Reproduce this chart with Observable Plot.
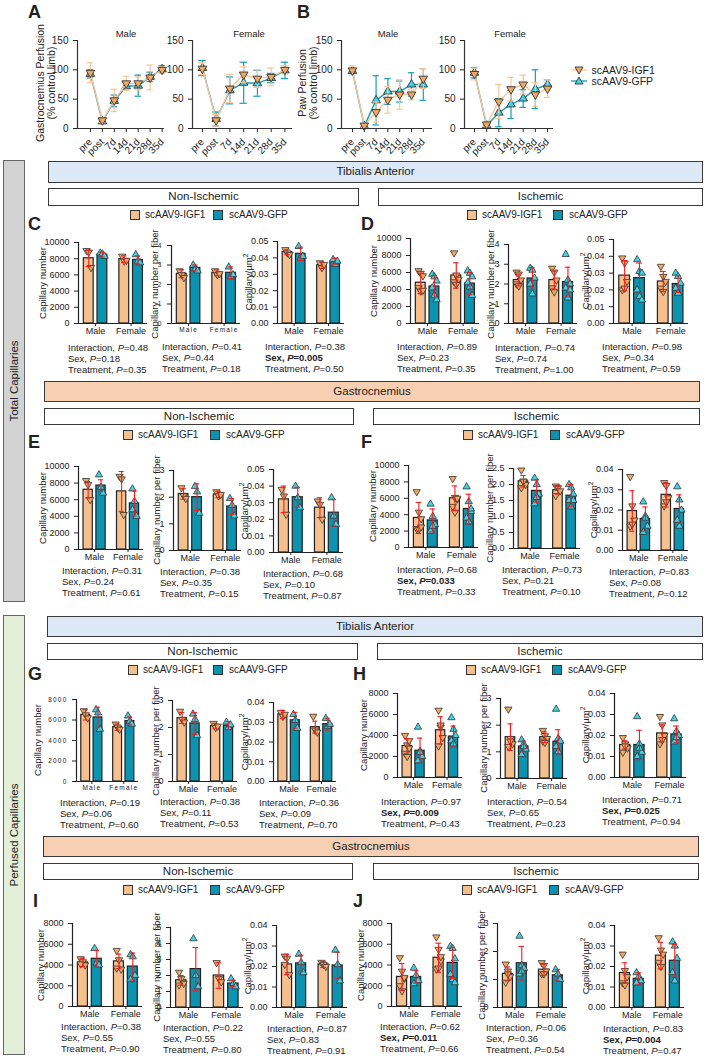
<!DOCTYPE html>
<html><head><meta charset="utf-8">
<script src="https://cdn.jsdelivr.net/npm/d3@7"></script>
<script src="https://cdn.jsdelivr.net/npm/@observablehq/plot@0.6"></script>
<style>
body{margin:0;background:#fff;font-family:"Liberation Sans",Arial,Helvetica,sans-serif;color:#222}
#root{position:relative;width:705px;height:1059px;overflow:hidden;background:#fff}
#root svg{background:transparent !important;overflow:visible !important;max-width:none !important}
.abs{position:absolute;white-space:nowrap}
sup{font-size:0.7em;line-height:0;vertical-align:0.5em}
</style></head><body><div id="root"></div>
<script>
// ---------------- DATA ----------------
const TIMES = ["pre","post","7d","14d","21d","28d","35d"];
const SERIES = ["scAAV9-IGF1","scAAV9-GFP"];
const SEXES = ["Male","Female"];
// Panel A: Gastrocnemius perfusion (% control limb)
const A_male_IGF1 = [95,14,48,77,77,87,100];
const A_male_IGF1_sd = [17,4,19,12,11,21,5];
const A_male_GFP = [93,12,47,72,73,88,101];
const A_male_GFP_sd = [7,3,10,7,18,8,6];
const A_female_IGF1 = [102,14,68,92,85,88,100];
const A_female_IGF1_sd = [10,10,24,13,15,15,7];
const A_female_GFP = [103,16,65,78,77,86,99];
const A_female_GFP_sd = [13,12,23,35,22,8,14];
// Panel B: Paw perfusion
const B_male_IGF1 = [99,5,28,49,58,58,85];
const B_male_IGF1_sd = [8,3,17,23,25,9,17];
const B_male_GFP = [98,4,48,63,63,75,75];
const B_male_GFP_sd = [4,3,42,22,18,20,27];
const B_female_IGF1 = [93,7,46,67,75,58,68];
const B_female_IGF1_sd = [10,3,29,20,16,20,15];
const B_female_GFP = [95,5,27,41,51,67,75];
const B_female_GFP_sd = [9,3,24,24,15,33,8];

// Bar panels: order [Male IGF1, Male GFP, Female IGF1, Female GFP]
const C1_mean=[8050,8500,7950,7850], C1_sd=[1000,300,400,500];
const C1_pts=[[9000,8800,6900],[8700,8600,8300],[8300,7700,7800],[8500,7700,7500]];
const C2_mean=[2.55,2.85,2.6,2.6], C2_sd=[0.2,0.15,0.15,0.3];
const C2_pts=[[2.7,2.5,2.35],[3.0,2.8,2.7],[2.7,2.5,2.55],[2.9,2.4,2.5]];
const C3_mean=[0.0435,0.0425,0.0355,0.0378], C3_sd=[0.0015,0.004,0.002,0.002];
const C3_pts=[[0.045,0.043,0.042],[0.047,0.040,0.041],[0.037,0.034,0.036],[0.039,0.036,0.038]];

const D1_mean=[4800,4350,5650,4700], D1_sd=[1300,1300,1500,1300];
const D1_pts=[[6200,5900,5600,4200,3800,3900],[5800,5500,5000,4200,3300,2800],[8300,5700,5200,4900,4600],[6200,5900,5500,4800,4300,3300]];
const D2_mean=[2.2,2.28,2.2,2.1], D2_sd=[0.3,0.55,0.45,0.75];
const D2_pts=[[2.6,2.5,2.2,2.0,1.9],[2.8,2.7,2.3,2.0,1.5],[2.8,2.6,2.2,1.8,1.6],[3.5,2.2,2.0,1.8,1.3,1.7]];
const D3_mean=[0.0285,0.027,0.025,0.0235], D3_sd=[0.009,0.009,0.006,0.005];
const D3_pts=[[0.039,0.036,0.025,0.020,0.021],[0.038,0.031,0.030,0.020,0.016,0.014],[0.034,0.028,0.025,0.021,0.019],[0.030,0.028,0.024,0.021,0.018]];

const E1_mean=[7200,7700,7000,5550], E1_sd=[1000,700,2400,1500];
const E1_pts=[[8300,7800,6000],[9000,7500,6800],[8800,8500,4200],[7300,5800,4000,4800]];
const E2_mean=[2.12,2.0,2.1,1.65], E2_sd=[0.2,0.5,0.12,0.3];
const E2_pts=[[2.35,2.05,1.95],[2.4,2.2,1.4],[2.2,2.05,2.1],[1.95,1.7,1.3]];
const E3_mean=[0.032,0.0333,0.027,0.024], E3_sd=[0.008,0.006,0.006,0.008];
const E3_pts=[[0.038,0.034,0.023],[0.040,0.033,0.027],[0.031,0.029,0.020],[0.033,0.022,0.017]];

const F1_mean=[3600,3300,6000,4700], F1_sd=[1900,1400,1500,1800];
const F1_pts=[[6800,4300,3500,2300,2200,2500],[5300,3800,2800,2000,2600],[8400,6100,5900,5000,4300,6000],[7400,5600,4400,3600,3100,4700]];
const F2_mean=[2.1,1.8,1.82,1.65], F2_sd=[0.18,0.35,0.12,0.35];
const F2_pts=[[2.45,2.1,2.0,1.9,2.1],[2.2,2.0,1.7,1.4,1.6],[1.95,1.9,1.8,1.65],[2.0,1.9,1.7,1.5,1.3,1.5]];
const F3_mean=[0.0195,0.0155,0.0275,0.0205], F3_sd=[0.010,0.006,0.006,0.007];
const F3_pts=[[0.0365,0.022,0.015,0.012,0.013],[0.024,0.017,0.012,0.009,0.016],[0.0335,0.032,0.026,0.022,0.024],[0.0315,0.025,0.020,0.015,0.012]];

const G1_mean=[6500,6250,5300,5900], G1_sd=[500,1000,300,400];
const G1_pts=[[6900,6500,6200],[7000,6700,5100],[5600,5300,5100],[6400,5900,5600]];
const G2_mean=[2.35,2.15,2.05,2.07], G2_sd=[0.2,0.4,0.1,0.15];
const G2_pts=[[2.6,2.3,2.2],[2.5,2.3,1.7],[2.15,2.0,2.05],[2.2,2.0,2.1]];
const G3_mean=[0.034,0.031,0.0275,0.029], G3_sd=[0.002,0.004,0.003,0.003];
const G3_pts=[[0.035,0.033,0.034],[0.034,0.031,0.027],[0.033,0.026,0.025],[0.032,0.028,0.029]];

const H1_mean=[3000,2550,4500,3900], H1_sd=[700,1200,1300,1000];
const H1_pts=[[4000,3100,2800,2300,2000,3500],[4800,2500,2000,1600,2400],[6400,4800,3800,3000,5000],[5700,4600,4000,3500,3200]];
const H2_mean=[1.55,1.2,1.55,1.38], H2_sd=[0.5,0.2,0.2,0.45];
const H2_pts=[[2.6,1.5,1.3,1.2,1.4],[1.45,1.3,1.1,0.9,1.2],[1.8,1.6,1.5,1.4,1.35],[2.6,1.5,1.4,1.2,1.0]];
const H3_mean=[0.0155,0.0155,0.021,0.0205], H3_sd=[0.002,0.007,0.004,0.004];
const H3_pts=[[0.019,0.016,0.014,0.012,0.015],[0.029,0.016,0.012,0.010,0.014],[0.029,0.025,0.020,0.016,0.018],[0.028,0.022,0.020,0.017,0.019]];

const I1_mean=[4250,4600,4350,3850], I1_sd=[400,800,700,1300];
const I1_pts=[[4600,4300,4000,4100],[5600,4200,4000],[5400,4500,3600,3700],[5000,4800,3000,2600]];
const I2_mean=[1.7,2.4,2.0,1.5], I2_sd=[0.3,1.35,0.8,0.2];
const I2_pts=[[2.2,1.8,1.5,1.4],[4.3,2.0,1.3],[2.8,1.8,1.6],[1.8,1.5,1.3]];
const I3_mean=[0.021,0.0215,0.021,0.0205], I3_sd=[0.005,0.004,0.0015,0.0065];
const I3_pts=[[0.025,0.024,0.016,0.021],[0.026,0.022,0.017],[0.022,0.021,0.020],[0.028,0.021,0.013]];

const J1_mean=[2850,2850,4700,4200], J1_sd=[1300,600,1400,1500];
const J1_pts=[[4700,3400,2700,2000,1500,2800],[3700,3000,2500,2200],[6700,5500,4400,3600,3700,4800],[5800,5600,4600,3100,2600,2300]];
const J2_mean=[1.2,1.58,1.35,1.15], J2_sd=[0.25,0.6,0.2,0.2];
const J2_pts=[[1.55,1.3,1.1,0.9,1.2],[2.55,1.5,1.4,1.2,1.3],[1.6,1.5,1.3,1.2,1.2],[1.35,1.2,1.0]];
const J3_mean=[0.0168,0.014,0.0253,0.0228], J3_sd=[0.005,0.003,0.0065,0.008];
const J3_pts=[[0.026,0.018,0.015,0.012,0.011],[0.017,0.015,0.013,0.012],[0.034,0.028,0.026,0.022,0.020],[0.032,0.030,0.024,0.017,0.013]];

// Two-way ANOVA p-values: [Interaction, Sex, Treatment]
const C1_p=["0.48","0.18","0.35"], C2_p=["0.41","0.44","0.18"], C3_p=["0.38","0.005","0.50"];
const D1_p=["0.89","0.23","0.35"], D2_p=["0.74","0.74","1.00"], D3_p=["0.98","0.34","0.59"];
const E1_p=["0.31","0.24","0.61"], E2_p=["0.38","0.35","0.15"], E3_p=["0.68","0.10","0.87"];
const F1_p=["0.68","0.033","0.33"], F2_p=["0.73","0.21","0.10"], F3_p=["0.83","0.08","0.12"];
const G1_p=["0.19","0.06","0.60"], G2_p=["0.38","0.11","0.53"], G3_p=["0.36","0.09","0.70"];
const H1_p=["0.97","0.009","0.43"], H2_p=["0.54","0.65","0.23"], H3_p=["0.71","0.025","0.94"];
const I1_p=["0.38","0.55","0.90"], I2_p=["0.22","0.55","0.80"], I3_p=["0.87","0.83","0.91"];
const J1_p=["0.62","0.011","0.66"], J2_p=["0.06","0.36","0.54"], J3_p=["0.83","0.004","0.47"];

const LAB_N = "Capillary number", LAB_PF = "Capillary number per fiber", LAB_UM = "Capillary/µm<sup>2</sup>";

// ---------------- STYLE / LAYOUT ----------------
const FONT = '"Liberation Sans", Arial, Helvetica, sans-serif';
const BAR_IGF = "#F5C08E", BAR_GFP = "#0C93AF";
const DOT_IGF = "#F2A860", DOT_GFP = "#3ED3E6";
const LINE_IGF = "#F6C69A", LINE_GFP = "#1B9BB7";
const RED = "#F01E1E";
const root = document.getElementById("root");

const triUp = d3.symbolTriangle;
const triDown = {draw(ctx, size){ const s3=Math.sqrt(3); const y=-Math.sqrt(size/(s3*3)); ctx.moveTo(0,-y*2); ctx.lineTo(-s3*y,y); ctx.lineTo(s3*y,y); ctx.closePath(); }};

function place(el, x, y){ el.style.position="absolute"; el.style.left=x+"px"; el.style.top=y+"px"; root.appendChild(el); return el; }
function div(html, x, y, css){ const d=document.createElement("div"); d.className="abs"; d.innerHTML=html; Object.assign(d.style, css||{}); return place(d, x, y); }
function box(x1,y1,x2,y2,fill,text,fs){
  div(text, x1, y1, {width:(x2-x1)+"px", height:(y2-y1)+"px", boxSizing:"border-box", background:fill, border:"1.5px solid #3a3a3a", textAlign:"center", lineHeight:(y2-y1-3)+"px", fontSize:(fs||11.5)+"px"});
}
function vtext(html, cx, cy, fs, lh){
  return div(html, cx, cy, {fontSize:fs+"px", lineHeight:(lh||Math.round(fs*1.15))+"px", textAlign:"center", transform:"translate(-50%,-50%) rotate(-90deg)"});
}
function letter(t, x, y){ div(t, x, y-2, {fontSize:"18px", fontWeight:"bold", lineHeight:"18px"}); }
function stats(x, cy, p, boldSex){
  const sex = `Sex, <i>P</i>=${p[1]}`;
  div(`Interaction, <i>P</i>=${p[0]}<br>${boldSex?`<b>${sex}</b>`:sex}<br>Treatment, <i>P</i>=${p[2]}`, x, cy-5.5, {fontSize:"9.5px", lineHeight:"11px"});
}
function barLegend(x1, x2, cy){
  const sw = (c)=>`<span style="display:inline-block;width:10px;height:10px;box-sizing:border-box;border:1.4px solid #333;background:${c};vertical-align:top"></span>`;
  div(sw(BAR_IGF), x1, cy-5, {lineHeight:"10px",height:"10px"});
  div(SERIES[0], x1+15, cy-6.5, {fontSize:"10px", lineHeight:"12px"});
  div(sw(BAR_GFP), x2, cy-5, {lineHeight:"10px",height:"10px"});
  div(SERIES[1], x2+16, cy-6.5, {fontSize:"10px", lineHeight:"12px"});
}

// ---------------- LINE CHARTS ----------------
function lineChart(c){
  const mL=36, mR=4, mT=8, mB=32;
  const W=c.right-c.ax+mL+mR, H=c.bottom-c.top+mT+mB;
  const mk=(v,sd)=>v.map((y,i)=>({i, v:y, lo:y-sd[i], hi:y+sd[i]}));
  const g=mk(c.gfp,c.gfpSd), f=mk(c.igf,c.igfSd);
  const ser=(d,lc,fc,sym)=>[
    Plot.ruleX(d,{x:"i",y1:"lo",y2:"hi",stroke:lc,strokeWidth:1.2}),
    Plot.ruleY(d,{y:"hi",x1:e=>e.i-0.27,x2:e=>e.i+0.27,stroke:lc,strokeWidth:1.2}),
    Plot.ruleY(d,{y:"lo",x1:e=>e.i-0.27,x2:e=>e.i+0.27,stroke:lc,strokeWidth:1.2}),
    Plot.line(d,{x:"i",y:"v",stroke:lc,strokeWidth:1.4}),
    Plot.dot(d,{x:"i",y:"v",symbol:sym,r:3.2,fill:fc,stroke:"#333",strokeWidth:0.9})
  ];
  const svg=Plot.plot({
    width:W,height:H,marginLeft:mL,marginRight:mR,marginTop:mT,marginBottom:mB,
    style:{fontFamily:FONT,fontSize:"10px",background:"transparent",overflow:"visible",color:"#222"},
    x:{type:"linear",domain:[c.xmin,c.xmax],ticks:d3.range(7),tickFormat:i=>TIMES[i],tickRotate:-45,tickSize:4,label:null},
    y:{domain:[0,150],ticks:[0,50,100,150],tickFormat:d=>String(d),tickSize:4,label:null},
    marks:[
      ...ser(g,LINE_GFP,DOT_GFP,triUp),
      ...ser(f,LINE_IGF,DOT_IGF,triDown),
      Plot.ruleX([c.xmin],{y1:0,y2:150,stroke:"#333",strokeWidth:1.2}),
      Plot.ruleY([0],{x1:c.xmin,x2:c.xmax,stroke:"#333",strokeWidth:1.2})
    ]
  });
  place(svg, c.ax-mL, c.top-mT);
  div(c.title, c.titleX, c.top-12, {fontSize:"9.5px", lineHeight:"12px", transform:"translateX(-50%)"});
}
lineChart({ax:77,top:40,bottom:128,right:164,xmin:-1.08,xmax:6.2,igf:A_male_IGF1,igfSd:A_male_IGF1_sd,gfp:A_male_GFP,gfpSd:A_male_GFP_sd,title:SEXES[0],titleX:126});
lineChart({ax:192,top:40,bottom:128,right:292,xmin:-0.72,xmax:6.55,igf:A_female_IGF1,igfSd:A_female_IGF1_sd,gfp:A_female_GFP,gfpSd:A_female_GFP_sd,title:SEXES[1],titleX:249});
lineChart({ax:341,top:40,bottom:128,right:432,xmin:-0.93,xmax:6.78,igf:B_male_IGF1,igfSd:B_male_IGF1_sd,gfp:B_male_GFP,gfpSd:B_male_GFP_sd,title:SEXES[0],titleX:388});
lineChart({ax:464,top:40,bottom:128,right:553,xmin:-0.82,xmax:6.49,igf:B_female_IGF1,igfSd:B_female_IGF1_sd,gfp:B_female_GFP,gfpSd:B_female_GFP_sd,title:SEXES[1],titleX:510});
vtext("Gastrocnemius Perfusion<br>(% control limb)", 46, 83, 10.5, 11);
vtext("Paw Perfusion<br>(% control limb)", 308, 83, 10.5, 11);
letter("A", 28, 5); letter("B", 297, 5);
// legend for A/B
(function(){
  const sym=(up,fc,lc)=>`<svg width="16" height="10" style="vertical-align:middle;overflow:visible"><line x1="0" y1="5" x2="16" y2="5" stroke="${lc}" stroke-width="1.3"/><path d="${up?'M8,1 L12,8 L4,8 Z':'M8,9 L12,2 L4,2 Z'}" fill="${fc}" stroke="#333" stroke-width="0.9"/></svg>`;
  div(sym(false,DOT_IGF,LINE_IGF)+` <span style="font-size:10.5px">${SERIES[0]}</span>`, 571, 63, {lineHeight:"12px"});
  div(sym(true,DOT_GFP,LINE_GFP)+` <span style="font-size:10.5px">${SERIES[1]}</span>`, 571, 74, {lineHeight:"12px"});
})();

// ---------------- BAR CHARTS ----------------
const POS=[1,2,3.6,4.6], XD=[0.25,5.3];
function barChart(c){
  const mL=50, mR=6, mT=8, mB=22;
  const W=c.right-c.ax+mL+mR, H=c.bottom-c.top+mT+mB;
  const [mean, sd, pts] = c.data;
  const grp=[0,1,2,3].map(i=>({pos:POS[i],mean:mean[i],sd:sd[i],igf:i%2===0}));
  const dots=(k)=>pts.flatMap((a,i)=> (i%2===k)? a.map((v,j)=>({pos:POS[i]+((j%3)-1)*0.16,v})) : []);
  const ticks=d3.range(0,c.ymax+c.step/2,c.step);
  const fmt=c.dec==null? (d=>String(d)) : d3.format("."+c.dec+"f");
  const svg=Plot.plot({
    width:W,height:H,marginLeft:mL,marginRight:mR,marginTop:mT,marginBottom:mB,
    style:{fontFamily:FONT,fontSize:(c.tf||9)+"px",background:"transparent",overflow:"visible",color:"#222"},
    x:{type:"linear",domain:XD,ticks:[1.5,4.1],tickFormat:d=>d<3?SEXES[0]:SEXES[1],tickSize:3,tickPadding:1,label:null},
    y:{domain:[0,c.ymax],ticks,tickFormat:fmt,tickSize:4,label:null},
    marks:[
      Plot.rect(grp,{x1:d=>d.pos-0.36,x2:d=>d.pos+0.36,y1:0,y2:"mean",fill:d=>d.igf?BAR_IGF:BAR_GFP,stroke:"#222",strokeWidth:1.2}),
      Plot.dot(dots(1),{x:"pos",y:"v",symbol:triUp,r:2.7,fill:DOT_GFP,stroke:"#333",strokeWidth:0.8}),
      Plot.dot(dots(0),{x:"pos",y:"v",symbol:triDown,r:2.7,fill:DOT_IGF,stroke:"#333",strokeWidth:0.8}),
      Plot.ruleX(grp,{x:"pos",y1:d=>d.mean-d.sd,y2:d=>d.mean+d.sd,stroke:RED,strokeWidth:1.1}),
      Plot.ruleY(grp,{y:d=>d.mean+d.sd,x1:d=>d.pos-0.2,x2:d=>d.pos+0.2,stroke:RED,strokeWidth:1.1}),
      Plot.ruleY(grp,{y:d=>d.mean-d.sd,x1:d=>d.pos-0.2,x2:d=>d.pos+0.2,stroke:RED,strokeWidth:1.1}),
      Plot.ruleX([XD[0]],{y1:0,y2:c.ymax,stroke:"#222",strokeWidth:1.2}),
      Plot.ruleY([0],{x1:XD[0],x2:XD[1],stroke:"#222",strokeWidth:1.2})
    ]
  });
  if(c.spaced) svg.querySelectorAll("g[aria-label$='tick label'] text").forEach(t=>t.setAttribute("letter-spacing","1.2"));
  place(svg, c.ax-mL, c.top-mT);
  vtext(c.label, c.ax-c.off, (c.top+c.bottom)/2, 9.5, 11);
  stats(c.sx, c.sy, c.p, c.bold);
}
const CHARTS=[
 {ax:78,top:242,bottom:323,right:147,ymax:10000,step:2000,off:36,label:LAB_N,data:[C1_mean,C1_sd,C1_pts],p:C1_p,sx:68,sy:347},
 {ax:171,top:245,bottom:323,right:240,ymax:4,step:1,off:17,label:LAB_PF,data:[C2_mean,C2_sd,C2_pts],p:C2_p,sx:162,sy:346,tf:6.5,spaced:true},
 {ax:277,top:241,bottom:323,right:344,ymax:0.05,step:0.01,dec:2,off:29,label:LAB_UM,data:[C3_mean,C3_sd,C3_pts],p:C3_p,sx:265,sy:346,bold:true},
 {ax:410,top:238,bottom:323,right:479,ymax:10000,step:2000,off:37,label:LAB_N,data:[D1_mean,D1_sd,D1_pts],p:D1_p,sx:397,sy:346},
 {ax:508,top:244,bottom:323,right:577,ymax:4,step:1,off:18,label:LAB_PF,data:[D2_mean,D2_sd,D2_pts],p:D2_p,sx:495,sy:347},
 {ax:613,top:239,bottom:323,right:688,ymax:0.05,step:0.01,dec:2,off:28,label:LAB_UM,data:[D3_mean,D3_sd,D3_pts],p:D3_p,sx:602,sy:346},
 {ax:78,top:466,bottom:549,right:143,ymax:10000,step:2000,off:36,label:LAB_N,data:[E1_mean,E1_sd,E1_pts],p:E1_p,sx:62,sy:570},
 {ax:173,top:470,bottom:550,right:241,ymax:3,step:1,off:17,label:LAB_PF,data:[E2_mean,E2_sd,E2_pts],p:E2_p,sx:160,sy:571},
 {ax:273,top:469,bottom:552,right:343,ymax:0.05,step:0.01,dec:2,off:29,label:LAB_UM,data:[E3_mean,E3_sd,E3_pts],p:E3_p,sx:263,sy:573},
 {ax:408,top:465,bottom:547,right:478,ymax:10000,step:2000,off:36,label:LAB_N,data:[F1_mean,F1_sd,F1_pts],p:F1_p,sx:397,sy:569,bold:true},
 {ax:513,top:468,bottom:548,right:580,ymax:2.5,step:0.5,dec:1,off:24,label:LAB_PF,data:[F2_mean,F2_sd,F2_pts],p:F2_p,sx:502,sy:569},
 {ax:622,top:469,bottom:550,right:688,ymax:0.04,step:0.01,dec:2,off:29,label:LAB_UM,data:[F3_mean,F3_sd,F3_pts],p:F3_p,sx:609,sy:571},
 {ax:76,top:699,bottom:781,right:138,ymax:8000,step:2000,off:39,label:LAB_N,data:[G1_mean,G1_sd,G1_pts],p:G1_p,sx:60,sy:802,tf:6.5,spaced:true},
 {ax:172,top:700,bottom:781,right:237,ymax:3,step:1,off:17,label:LAB_PF,data:[G2_mean,G2_sd,G2_pts],p:G2_p,sx:160,sy:801},
 {ax:273,top:702,bottom:781,right:336,ymax:0.04,step:0.01,dec:2,off:29,label:LAB_UM,data:[G3_mean,G3_sd,G3_pts],p:G3_p,sx:259,sy:802},
 {ax:397,top:693,bottom:777,right:462,ymax:8000,step:2000,off:34,label:LAB_N,data:[H1_mean,H1_sd,H1_pts],p:H1_p,sx:381,sy:801,bold:true},
 {ax:500,top:698,bottom:778,right:567,ymax:3,step:1,off:17,label:LAB_PF,data:[H2_mean,H2_sd,H2_pts],p:H2_p,sx:487,sy:801},
 {ax:614,top:693,bottom:777,right:686,ymax:0.04,step:0.01,dec:2,off:29,label:LAB_UM,data:[H3_mean,H3_sd,H3_pts],p:H3_p,sx:602,sy:799,bold:true},
 {ax:72,top:923,bottom:1006,right:142,ymax:8000,step:2000,off:32,label:LAB_N,data:[I1_mean,I1_sd,I1_pts],p:I1_p,sx:61,sy:1026},
 {ax:170,top:927,bottom:1007,right:243,ymax:5,step:1,off:14,label:LAB_PF,data:[I2_mean,I2_sd,I2_pts],p:I2_p,sx:163,sy:1027},
 {ax:276,top:925,bottom:1007,right:347,ymax:0.04,step:0.01,dec:2,off:29,label:LAB_UM,data:[I3_mean,I3_sd,I3_pts],p:I3_p,sx:267,sy:1028},
 {ax:391,top:923,bottom:1006,right:462,ymax:8000,step:2000,off:31,label:LAB_N,data:[J1_mean,J1_sd,J1_pts],p:J1_p,sx:380,sy:1026,bold:true},
 {ax:497,top:923,bottom:1007,right:567,ymax:3,step:1,off:16,label:LAB_PF,data:[J2_mean,J2_sd,J2_pts],p:J2_p,sx:486,sy:1027},
 {ax:614,top:925,bottom:1007,right:684,ymax:0.04,step:0.01,dec:2,off:29,label:LAB_UM,data:[J3_mean,J3_sd,J3_pts],p:J3_p,sx:603,sy:1028,bold:true}
];

// side boxes
div("", 3, 160, {width:"22px",height:"442px",boxSizing:"border-box",background:"#D2D2D2",border:"1.3px solid #666"});
vtext("Total Capillaries", 14, 381, 11.5);
div("", 3, 615, {width:"22px",height:"440px",boxSizing:"border-box",background:"#E3EFD9",border:"1.3px solid #666"});
vtext("Perfused Capillaries", 14, 835, 11.5);

// section headers
box(48,161,703,183,"#DCE8F5","Tibialis Anterior");
box(48,188,359,206,"#fff","Non-Ischemic");
box(378,188,703,206,"#fff","Ischemic");
box(44,381,700,402,"#F7CFB2","Gastrocnemius");
box(44,408,354,425,"#fff","Non-Ischemic");
box(373,408,700,425,"#fff","Ischemic");
box(47,616,703,637,"#DCE8F5","Tibialis Anterior");
box(47,643,358,660,"#fff","Non-Ischemic");
box(377,643,703,660,"#fff","Ischemic");
box(43,836,699,857,"#F7CFB2","Gastrocnemius");
box(43,863,353,880,"#fff","Non-Ischemic");
box(373,863,699,880,"#fff","Ischemic");

barLegend(130,213,215); barLegend(467,553,215);
barLegend(123,210,435); barLegend(463,550,435);
barLegend(128,213,670); barLegend(466,552,670);
barLegend(123,210,890); barLegend(462,549,890);

letter("C",28,217); letter("D",361,217);
letter("E",28,435); letter("F",361,435);
letter("G",28,667); letter("H",353,667);
letter("I",33,894); letter("J",353,894);

CHARTS.forEach(barChart);
</script></body></html>
